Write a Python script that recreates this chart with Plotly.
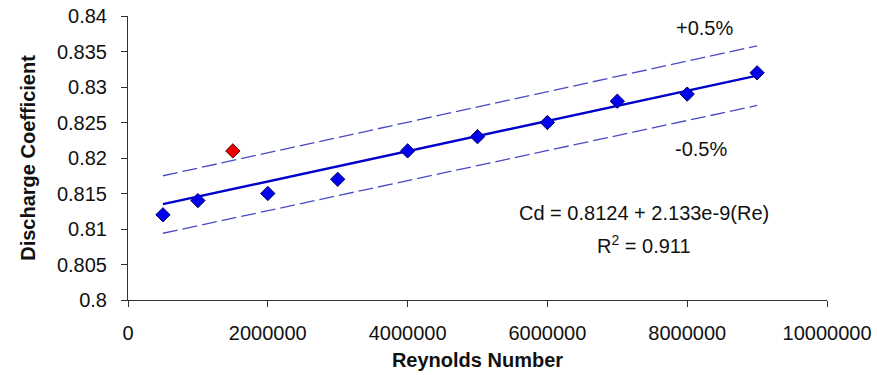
import plotly.graph_objects as go

# Data
reynolds = [500000, 1000000, 2000000, 3000000, 4000000, 5000000, 6000000, 7000000, 8000000, 9000000]
cd_values = [0.812, 0.814, 0.815, 0.817, 0.821, 0.823, 0.825, 0.828, 0.829, 0.832]
outlier_re = [1500000]
outlier_cd = [0.821]

# Linear fit line and +/-0.5% bands (end points)
fit_re = [500000, 9000000]
fit_cd = [0.8135, 0.8316]
upper_cd = [0.8175, 0.8358]
lower_cd = [0.8094, 0.8274]

y_ticks = [0.8, 0.805, 0.81, 0.815, 0.82, 0.825, 0.83, 0.835, 0.84]
y_tick_text = ["0.8", "0.805", "0.81", "0.815", "0.82", "0.825", "0.83", "0.835", "0.84"]
x_ticks = [0, 2000000, 4000000, 6000000, 8000000, 10000000]
x_tick_text = ["0", "2000000", "4000000", "6000000", "8000000", "10000000"]

FONT = "Liberation Sans, Arial, sans-serif"
band_color = "#4a4ac4"

fig = go.Figure()
fig.add_trace(go.Scatter(x=fit_re, y=upper_cd, mode="lines",
                         line=dict(color=band_color, width=1.3, dash="15px,5px"),
                         hoverinfo="skip", showlegend=False))
fig.add_trace(go.Scatter(x=fit_re, y=lower_cd, mode="lines",
                         line=dict(color=band_color, width=1.3, dash="15px,5px"),
                         hoverinfo="skip", showlegend=False))
fig.add_trace(go.Scatter(x=fit_re, y=fit_cd, mode="lines",
                         line=dict(color="#0000cc", width=2.5),
                         showlegend=False))
fig.add_trace(go.Scatter(x=reynolds, y=cd_values, mode="markers",
                         marker=dict(symbol="diamond", size=11, color="#0000ee",
                                     line=dict(color="#000066", width=1)),
                         showlegend=False))
fig.add_trace(go.Scatter(x=outlier_re, y=outlier_cd, mode="markers",
                         marker=dict(symbol="diamond", size=11, color="#ee0000",
                                     line=dict(color="#550000", width=1)),
                         showlegend=False))

ann_font = dict(family=FONT, size=20, color="#111111")
fig.add_annotation(x=7386000, y=0.81225, text="Cd = 0.8124 + 2.133e-9(Re)",
                   showarrow=False, font=ann_font, xanchor="center", yanchor="middle")
fig.add_annotation(x=7386000, y=0.80775, text="R<sup>2</sup> = 0.911",
                   showarrow=False, font=ann_font, xanchor="center", yanchor="middle")
fig.add_annotation(x=8243000, y=0.8383, text="+0.5%",
                   showarrow=False, font=ann_font, xanchor="center", yanchor="middle")
fig.add_annotation(x=8200000, y=0.8213, text="-0.5%",
                   showarrow=False, font=ann_font, xanchor="center", yanchor="middle")

axis_common = dict(showgrid=False, zeroline=False, showline=True, linecolor="#333333",
                   linewidth=1, ticks="outside", ticklen=6, tickcolor="#333333",
                   tickfont=dict(family=FONT, size=20, color="#111111"))

fig.update_layout(
    width=877, height=375,
    margin=dict(l=128, r=50, t=16, b=75),
    paper_bgcolor="white", plot_bgcolor="white",
    xaxis=dict(range=[0, 10000000], tickvals=x_ticks, ticktext=x_tick_text,
               title=dict(text="<b>Reynolds Number</b>",
                          font=dict(family=FONT, size=20, color="#111111"), standoff=9),
               automargin=False, ticklabelstandoff=9, **axis_common),
    yaxis=dict(range=[0.8, 0.84], tickvals=y_ticks, ticktext=y_tick_text,
               title=dict(text="<b>Discharge Coefficient</b>",
                          font=dict(family=FONT, size=20, color="#111111"), standoff=15),
               automargin=False, ticklabelstandoff=10, **axis_common),
)

fig.write_html("out.html")
